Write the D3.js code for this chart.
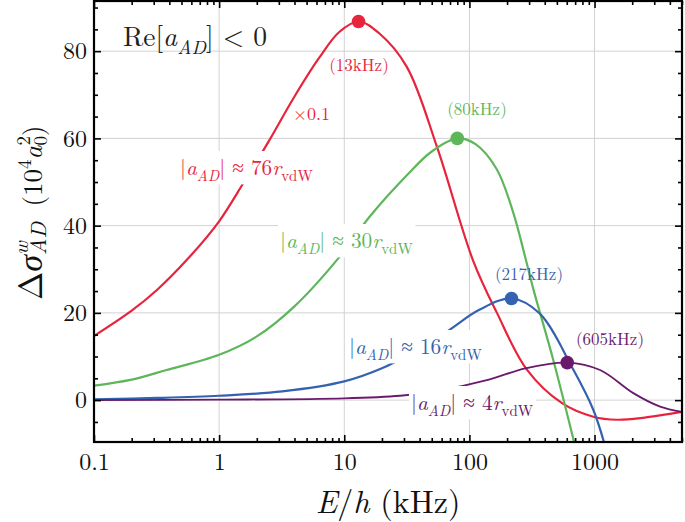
<!DOCTYPE html>
<html><head><meta charset="utf-8">
<script src="https://cdn.jsdelivr.net/npm/d3@7"></script>
<style>body{margin:0;background:#fff}svg{display:block}</style>
</head><body>
<svg id="c" width="685" height="522"></svg>
<script>
// ---- data (E/h in kHz, Δσ in 10^4 a0^2; red curve shown ×0.1) ----
const redE = [0.1,0.2,0.32,0.55,1,1.58,2.51,3.98,6.31,9.12,13,19,31.6,55,107,166,288,550,977,1514,2512,5000];
const redV = [14.7,20.5,25.3,32.1,41,50,59.5,69.5,78.5,84.4,86.8,84.1,76.4,58.1,32,20,7,-0.7,-3.8,-4.5,-4.0,-2.7];
const greenE = [0.1,0.2,0.38,1,2,4,9.2,16,31.5,50,80,112,165,224,278,324,468,692];
const greenV = [3.3,4.7,6.9,10.4,14.6,21.5,32.9,42.1,51.5,57,60,58.7,53,43,33,25.5,9.2,-10];
const blueE = [0.1,0.32,1,3.2,10,20,35.5,66,120,217,363,676,977,1200];
const blueV = [0.2,0.5,1.0,2.0,4.3,7.3,11,15.7,20.7,23.3,19.9,7.0,-2.2,-10];
const purpleE = [0.1,1,10,28,53,143,280,605,1107,2042,3342,5000];
const purpleV = [0,0.1,0.4,1.0,2.0,4.7,7.3,8.6,6.9,1.6,-1.5,-2.7];
const peakE = [13,80,217,605];
const peakV = [86.8,60,23.3,8.6];
const peakLabels = ["(13kHz)","(80kHz)","(217kHz)","(605kHz)"];
const seriesColors = ["#e8243c","#5db65a","#3462b0","#6a1a6b"];
const xTicks = [0.1,1,10,100,1000];
const xTickLabels = ["0.1","1","10","100","1000"];
const yTicks = [0,20,40,60,80];
const rvdw = ["76","30","16","4"];

const L=94, R=682, T=1, B=442;
const svg=d3.select("#c");
const x=d3.scaleLog().domain([0.1,5000]).range([L,R]);
const y=d3.scaleLinear().domain([-9.6,91.5]).range([B,T]);
const serif="Latin Modern Roman, Liberation Serif, serif";

svg.append("defs").append("clipPath").attr("id","clip").append("rect")
 .attr("x",L).attr("y",T).attr("width",R-L).attr("height",B-T);

// grid
const g=svg.append("g");
g.selectAll("line.gx").data(xTicks.slice(1)).join("line")
 .attr("x1",d=>x(d)).attr("x2",d=>x(d)).attr("y1",T).attr("y2",B)
 .attr("stroke","#d2d2d2").attr("stroke-width",1);
g.selectAll("line.gy").data(yTicks).join("line")
 .attr("x1",L).attr("x2",R).attr("y1",d=>y(d)).attr("y2",d=>y(d))
 .attr("stroke","#d2d2d2").attr("stroke-width",1);

// curves
const line=d3.line().x(d=>x(d[0])).y(d=>y(d[1])).curve(d3.curveCatmullRom.alpha(0.5));
const series=[[redE,redV],[greenE,greenV],[blueE,blueV],[purpleE,purpleV]];
const cg=svg.append("g").attr("clip-path","url(#clip)");
series.forEach((s,i)=>{
  cg.append("path").datum(s[0].map((e,k)=>[e,s[1][k]]))
   .attr("d",line).attr("fill","none").attr("stroke",seriesColors[i])
   .attr("stroke-width",i===3?1.8:2.2);
});

// rich text helper
function rich(sel,parts,size){
  let cur=0;
  parts.forEach(p=>{
    const sh = p.s==="sub"? size*0.3 : p.s==="sup"? -size*0.42 : 0;
    const ts=sel.append("tspan").text(p.t)
      .style("font-size", (p.s? size*0.7 : size)+"px")
      .style("font-style", p.i?"italic":"normal");
    if(sh!==cur) ts.attr("dy",sh-cur);
    if(p.dx) ts.attr("dx",p.dx);
    cur=sh;
  });
  return sel;
}
function label(xp,yp,parts,size,color,anchor,bg){
  const grp=svg.append("g");
  const t=grp.append("text").attr("x",xp).attr("y",yp).attr("fill",color)
    .style("font-family",serif).attr("text-anchor",anchor||"start");
  rich(t,parts,size);
  if(bg){
    const b=t.node().getBBox();
    grp.insert("rect","text").attr("x",b.x-2).attr("y",b.y).attr("width",b.width+4).attr("height",b.height-1).attr("fill","#fff");
  }
  return t;
}
function aLabel(n){
  return [{t:"|"},{t:"a",i:1},{t:"AD",i:1,s:"sub"},{t:"| \u2248 "+n},{t:"r",i:1},{t:"vdW",s:"sub"}];
}

// annotation labels
const annPos=[[180,175],[280,248],[349,354],[411,410]];
annPos.forEach((p,i)=>label(p[0],p[1],aLabel(rvdw[i]),21.3,seriesColors[i],"start",true));
label(293,120,[{t:"\u00d70.1"}],18,seriesColors[0],"start",false);

// peak dots
svg.selectAll("circle.pk").data(peakE).join("circle")
 .attr("cx",d=>x(d)).attr("cy",(d,i)=>y(peakV[i])).attr("r",6.8)
 .attr("fill",(d,i)=>seriesColors[i]);
const peakPos=[[359,71],[477,115],[529,280],[610,345]];
peakPos.forEach((p,i)=>label(p[0],p[1],[{t:peakLabels[i]}],17,seriesColors[i],"middle",false));

// Re[a_AD] < 0
label(123,46,[{t:"Re["},{t:"a",i:1},{t:"AD",i:1,s:"sub"},{t:"] < 0"}],27.5,"#222","start",false);

// axes ticks (inward)
const minorX=[];
for(let d=0.1; d<5000; d*=10){ for(let k=2;k<=9;k++){ if(d*k<=5000) minorX.push(d*k);} }
const minorY=d3.range(-5,91,5).filter(v=>v%20!==0);
function ticks(axisFn,scale,vals,size,tr,labels,pad){
  const a=axisFn(scale).tickValues(vals).tickSize(-size).tickPadding(pad||10);
  a.tickFormat(labels? (d,i)=>labels[i] : ()=>"");
  const ag=svg.append("g").attr("transform",tr).call(a);
  ag.select(".domain").remove();
  ag.selectAll(".tick line").attr("stroke","#000").attr("stroke-width",1.6);
  ag.selectAll("text").style("font-family",serif).style("font-size","24px").attr("fill","#111");
  return ag;
}
ticks(d3.axisBottom,x,xTicks,7,`translate(0,${B})`,xTickLabels,11);
ticks(d3.axisBottom,x,minorX,4,`translate(0,${B})`,null);
ticks(d3.axisTop,x,xTicks,7,`translate(0,${T})`,null);
ticks(d3.axisTop,x,minorX,4,`translate(0,${T})`,null);
ticks(d3.axisLeft,y,yTicks,7,`translate(${L},0)`,yTicks.map(String),7);
ticks(d3.axisLeft,y,minorY,4,`translate(${L},0)`,null);
ticks(d3.axisRight,y,yTicks,7,`translate(${R},0)`,null);
ticks(d3.axisRight,y,minorY,4,`translate(${R},0)`,null);

// frame
svg.append("rect").attr("x",L).attr("y",T).attr("width",R-L).attr("height",B-T)
 .attr("fill","none").attr("stroke","#000").attr("stroke-width",2.2);

// axis titles
const xt=svg.append("text").attr("x",388).attr("y",513).attr("text-anchor","middle")
 .style("font-family",serif).attr("fill","#111");
rich(xt,[{t:"E",i:1},{t:"/"},{t:"h",i:1},{t:" (kHz)"}],32);

const yt=svg.append("text").attr("transform","translate(42,300) rotate(-90)")
 .attr("text-anchor","start").style("font-family",serif).attr("fill","#111");
function tsp(t,sz,it){ return yt.append("tspan").text(t).style("font-size",sz+"px").style("font-style",it?"italic":"normal"); }
tsp("\u0394",34);
tsp("\u03c3",34,1);
const wsp=tsp("w",21,1).attr("dy",-14);
const wlen=wsp.node().getComputedTextLength();
tsp("AD",22,1).attr("dy",18).attr("dx",-wlen);
tsp("\u2002(10",27).attr("dy",-4).attr("dx",2);
tsp("4",19).attr("dy",-11);
tsp("a",27,1).attr("dy",11);
const s2=tsp("2",19).attr("dy",-12);
const l2=s2.node().getComputedTextLength();
tsp("0",19).attr("dy",17).attr("dx",-l2);
tsp(")",27).attr("dy",-5);
</script>
</body></html>
